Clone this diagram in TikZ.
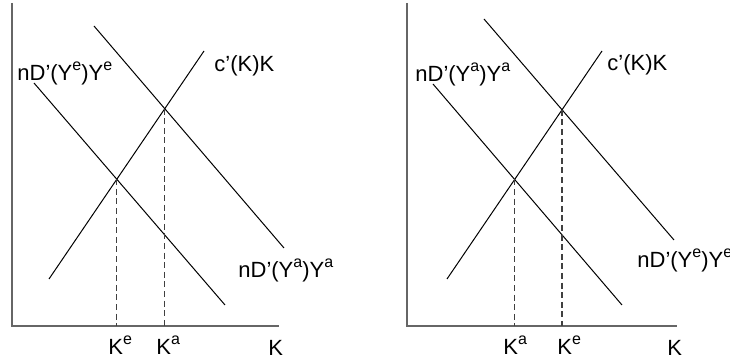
\documentclass[tikz,border=0pt]{standalone}
\usepackage{fontspec}
\setmainfont{Liberation Sans}
\usetikzlibrary{intersections}
\newcommand{\sps}[1]{\raisebox{5pt}{\fontsize{8}{8}\selectfont #1}}

\begin{document}
\begin{tikzpicture}[x=0.5pt,y=0.5pt,
  axis/.style={black!60,line width=0.9pt},
  curve/.style={black,line width=0.5pt},
  guide/.style={black!75,line width=0.6pt,dash pattern=on 3pt off 1.8pt},
  lbl/.style={anchor=base west,inner sep=0pt,font=\fontsize{11}{12}\selectfont}]
\useasboundingbox (0,0) rectangle (730,364);
% ---- left panel: expected demand below actual ----
\coordinate (oL) at (12,38);
\draw[axis] (12,361) -- (oL) -- (279,38);
\draw[curve,name path=cL] (49,85) -- (204,313);
\draw[curve,name path=eL] (34,281) -- (225,59);
\draw[curve,name path=aL] (94,338) -- (284,116);
\path[name intersections={of=cL and eL,by=pLe}];
\path[name intersections={of=cL and aL,by=pLa}];
\draw[guide] (pLe) -- (pLe |- oL);
\draw[guide] (pLa) -- (pLa |- oL);
\node[lbl] (eLlab) at (17,283) {nD'(Y\sps{e})Y\sps{e}};
\node[lbl] (cLlab) at (214,292) {c'(K)K};
\node[lbl] (aLlab) at (238,86) {nD'(Y\sps{a})Y\sps{a}};
\node[lbl] (kLe) at (108,9) {K\sps{e}};
\node[lbl] (kLa) at (156,9) {K\sps{a}};
\node[lbl] (kL) at (268,8) {K};
% ---- right panel: actual demand below expected ----
\coordinate (oR) at (407,38);
\draw[axis] (407,361) -- (oR) -- (677,38);
\draw[curve,name path=cR] (447,85) -- (602,313);
\draw[curve,name path=aR] (433,280) -- (622,59);
\draw[curve,name path=eR] (484,345) -- (674,124);
\path[name intersections={of=cR and aR,by=pRa}];
\path[name intersections={of=cR and eR,by=pRe}];
\draw[guide] (pRa) -- (pRa |- oR);
\draw[guide] (pRe) -- (pRe |- oR);
\node[lbl] (aRlab) at (415,282) {nD'(Y\sps{a})Y\sps{a}};
\node[lbl] (cRlab) at (607,293) {c'(K)K};
\node[lbl] (eRlab) at (637,96) {nD'(Y\sps{e})Y\sps{e}};
\node[lbl] (kRa) at (503,9) {K\sps{a}};
\node[lbl] (kRe) at (557,9) {K\sps{e}};
\node[lbl] (kR) at (667,8) {K};
\end{tikzpicture}
\end{document}
